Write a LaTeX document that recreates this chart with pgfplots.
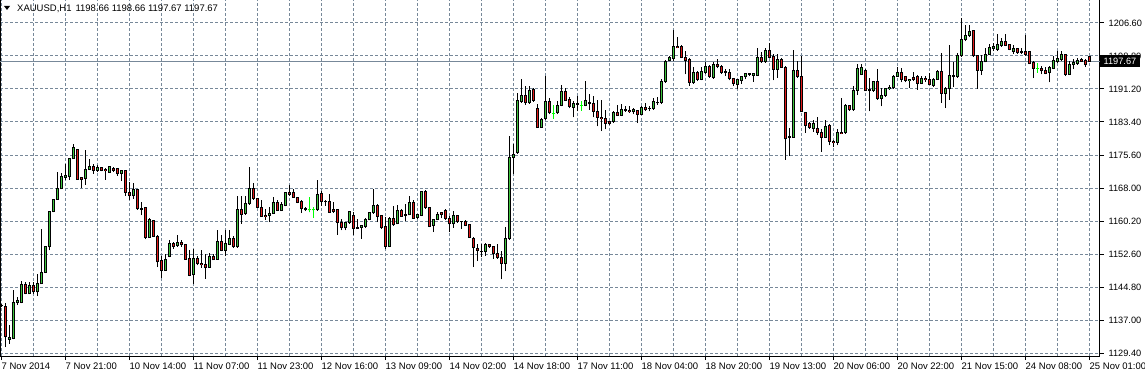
\documentclass[border=0pt]{standalone}
\usepackage{pgfplots}
\pgfplotsset{compat=1.18}
\usepackage{pgfplotstable}
\usepackage{fontspec}
\setmainfont{Liberation Sans}
\definecolor{bullc}{RGB}{60,195,60}
\definecolor{bearc}{RGB}{225,25,25}
\definecolor{dojic}{RGB}{0,255,0}
\definecolor{gridc}{RGB}{119,136,153}
\pgfplotstableread{
i o h l c
0 1140.4 1140.9 1140.2 1140.6
1 1140.2 1141.0 1130.8 1133.2
2 1132.6 1135.9 1131.6 1133.0
3 1132.8 1144.2 1132.6 1141.2
4 1141.3 1142.5 1140.6 1141.6
5 1141.2 1146.2 1141.0 1145.5
6 1145.5 1146.0 1143.1 1143.3
7 1143.3 1146.0 1143.1 1145.2
8 1145.2 1146.0 1143.3 1143.7
9 1143.7 1147.9 1142.7 1145.6
10 1145.6 1158.5 1145.5 1148.3
11 1148.3 1154.4 1148.1 1154.3
12 1154.2 1162.6 1153.4 1162.4
13 1162.5 1165.4 1162.3 1165.4
14 1165.4 1171.7 1165.3 1167.8
15 1167.8 1171.4 1167.7 1170.7
16 1170.5 1173.6 1169.9 1170.9
17 1170.7 1175.0 1169.9 1174.8
18 1174.8 1178.3 1174.8 1177.5
19 1176.9 1177.1 1170.1 1170.1
20 1170.4 1170.5 1168.0 1170.1
21 1170.3 1176.9 1168.8 1172.4
22 1172.4 1174.8 1172.2 1173.0
23 1173.0 1173.6 1171.3 1172.1
24 1172.1 1173.4 1171.7 1172.8
25 1172.8 1173.0 1171.9 1172.2
26 1172.4 1172.7 1169.9 1172.0
27 1171.7 1173.2 1171.7 1173.0
28 1172.5 1172.8 1171.7 1172.2
29 1172.5 1172.5 1170.9 1171.3
30 1171.5 1172.1 1169.6 1172.1
31 1172.1 1172.1 1166.2 1167.0
32 1167.0 1169.3 1165.2 1166.2
33 1166.2 1169.1 1165.5 1167.6
34 1167.6 1167.8 1162.9 1163.1
35 1163.1 1164.8 1161.6 1163.0
36 1163.4 1163.5 1156.0 1156.5
37 1156.5 1161.0 1156.4 1160.6
38 1160.4 1160.6 1156.5 1156.7
39 1156.7 1156.9 1149.5 1150.7
40 1151.1 1152.2 1147.0 1148.7
41 1148.7 1152.6 1148.6 1151.2
42 1152.0 1155.9 1151.8 1155.0
43 1155.0 1155.3 1153.8 1154.4
44 1154.5 1157.1 1154.2 1155.3
45 1155.3 1155.9 1154.3 1154.7
46 1154.8 1155.0 1151.2 1151.3
47 1151.5 1153.4 1147.3 1147.6
48 1147.7 1153.8 1145.6 1151.5
49 1151.5 1152.2 1149.9 1150.3
50 1150.4 1153.5 1149.4 1150.0
51 1150.0 1152.6 1146.8 1149.4
52 1149.5 1152.8 1149.4 1152.0
53 1152.0 1152.6 1151.1 1151.2
54 1151.3 1158.2 1151.2 1155.6
55 1155.6 1156.9 1153.2 1153.4
56 1153.4 1158.2 1152.2 1155.1
57 1154.8 1158.1 1154.6 1156.3
58 1156.1 1156.7 1154.0 1154.2
59 1154.2 1166.2 1154.0 1162.9
60 1162.9 1166.2 1159.6 1161.8
61 1162.0 1166.2 1161.8 1164.4
62 1164.3 1172.8 1164.1 1168.0
63 1168.0 1169.1 1165.2 1165.5
64 1165.5 1165.7 1163.4 1163.5
65 1163.5 1165.2 1161.2 1161.3
66 1161.6 1163.1 1160.6 1161.3
67 1161.6 1163.5 1160.0 1162.1
68 1162.1 1166.0 1162.0 1164.5
69 1164.5 1165.1 1162.6 1162.7
70 1162.7 1164.7 1162.6 1164.1
71 1163.9 1167.0 1163.7 1166.9
72 1166.9 1168.8 1166.2 1166.5
73 1166.9 1167.8 1165.7 1165.8
74 1165.8 1166.0 1164.4 1164.7
75 1164.8 1165.1 1162.1 1163.1
76 1163.1 1163.5 1162.6 1162.9
77 1162.9 1165.8 1162.3 1162.9
78 1162.9 1163.5 1161.0 1162.9
79 1162.9 1169.9 1162.7 1166.5
80 1166.6 1167.4 1163.9 1164.9
81 1164.9 1165.2 1163.9 1164.8
82 1164.8 1166.6 1162.1 1162.3
83 1163.0 1164.7 1162.2 1162.5
84 1163.0 1163.1 1157.1 1159.9
85 1159.9 1160.8 1158.1 1158.7
86 1158.7 1160.0 1158.1 1159.9
87 1159.9 1162.7 1159.6 1162.5
88 1161.6 1162.5 1156.9 1158.5
89 1158.8 1160.8 1158.5 1158.6
90 1158.8 1159.4 1156.1 1159.2
91 1159.1 1160.9 1158.6 1160.6
92 1160.6 1162.5 1160.4 1162.3
93 1162.2 1167.8 1162.0 1163.9
94 1163.9 1164.3 1160.0 1161.4
95 1161.6 1161.7 1158.3 1158.8
96 1159.1 1161.2 1153.8 1154.4
97 1154.4 1161.2 1154.4 1160.9
98 1160.8 1163.9 1159.2 1159.4
99 1159.6 1164.1 1159.5 1162.7
100 1162.7 1163.1 1161.2 1161.4
101 1161.7 1164.3 1160.2 1161.6
102 1161.7 1166.2 1161.6 1164.7
103 1164.7 1165.1 1160.8 1160.9
104 1161.2 1162.0 1160.8 1161.7
105 1161.6 1167.4 1161.4 1167.2
106 1167.2 1167.6 1163.1 1163.4
107 1163.4 1163.5 1158.8 1159.1
108 1159.2 1160.8 1157.7 1160.6
109 1160.6 1162.3 1160.4 1161.7
110 1162.2 1162.2 1160.9 1161.9
111 1162.7 1163.0 1160.6 1160.9
112 1160.9 1161.4 1157.7 1159.6
113 1159.6 1162.6 1158.7 1161.6
114 1161.6 1161.6 1159.9 1160.1
115 1160.2 1160.2 1158.4 1160.1
116 1160.2 1160.6 1159.1 1159.3
117 1159.5 1159.6 1156.3 1156.5
118 1156.2 1156.5 1149.5 1154.0
119 1153.8 1154.8 1150.9 1153.4
120 1153.2 1154.8 1151.8 1153.1
121 1153.2 1155.2 1152.1 1154.8
122 1154.8 1154.8 1154.0 1154.2
123 1154.4 1154.4 1151.5 1152.6
124 1152.7 1154.8 1151.5 1151.7
125 1151.7 1153.2 1146.6 1150.3
126 1150.3 1158.8 1148.5 1156.2
127 1156.2 1180.1 1155.9 1175.2
128 1175.2 1178.2 1171.2 1175.8
129 1176.2 1190.3 1176.0 1188.5
130 1188.2 1193.6 1187.9 1189.7
131 1189.7 1191.8 1187.5 1187.9
132 1187.9 1191.8 1187.7 1190.8
133 1191.0 1191.3 1188.2 1188.5
134 1186.5 1187.7 1182.1 1182.1
135 1182.2 1184.3 1182.1 1184.0
136 1184.3 1194.2 1184.0 1188.2
137 1188.2 1189.1 1185.2 1185.6
138 1185.5 1187.5 1184.2 1185.5
139 1185.6 1188.3 1185.3 1187.4
140 1187.4 1192.2 1187.1 1190.5
141 1190.5 1191.4 1188.3 1188.5
142 1188.7 1189.2 1186.6 1187.1
143 1186.9 1188.3 1184.5 1187.7
144 1187.7 1189.5 1185.9 1187.5
145 1187.4 1188.3 1186.1 1187.4
146 1187.4 1193.0 1187.1 1188.5
147 1187.9 1190.0 1186.3 1187.7
148 1187.7 1189.5 1184.5 1185.9
149 1185.8 1188.5 1182.4 1184.5
150 1184.5 1188.7 1181.3 1184.2
151 1184.2 1186.3 1181.7 1183.2
152 1183.5 1183.5 1182.8 1183.2
153 1183.5 1185.9 1183.2 1185.6
154 1185.6 1187.5 1184.8 1184.9
155 1185.0 1187.7 1184.8 1186.3
156 1186.3 1187.1 1185.8 1186.1
157 1186.1 1187.1 1185.6 1185.8
158 1185.8 1186.6 1185.2 1186.3
159 1186.1 1186.3 1183.2 1185.2
160 1185.2 1187.1 1185.0 1186.9
161 1186.9 1187.9 1186.1 1186.3
162 1186.7 1187.1 1185.9 1186.6
163 1186.6 1189.1 1186.3 1188.3
164 1188.1 1189.2 1187.5 1187.9
165 1188.0 1193.4 1187.6 1193.0
166 1192.9 1197.9 1192.6 1197.7
167 1197.9 1198.9 1197.7 1198.5
168 1198.3 1204.9 1197.7 1201.0
169 1201.2 1203.3 1200.7 1200.8
170 1201.2 1201.4 1198.3 1198.5
171 1198.5 1200.0 1194.6 1197.9
172 1198.1 1198.3 1191.9 1192.6
173 1192.6 1196.3 1192.4 1195.0
174 1195.0 1195.4 1193.0 1193.4
175 1193.4 1196.3 1193.2 1195.2
176 1195.0 1197.5 1194.7 1196.5
177 1196.5 1196.8 1193.8 1194.2
178 1193.8 1197.5 1193.6 1196.8
179 1196.8 1198.1 1196.0 1196.4
180 1196.5 1196.8 1194.7 1195.0
181 1195.2 1195.8 1194.2 1195.1
182 1195.0 1195.8 1193.2 1193.6
183 1193.6 1193.8 1191.9 1192.4
184 1192.2 1193.6 1191.1 1193.4
185 1193.2 1194.2 1192.4 1194.0
186 1194.0 1195.0 1193.4 1194.7
187 1194.7 1195.0 1194.2 1194.6
188 1194.4 1195.0 1192.9 1194.7
189 1194.4 1200.8 1194.2 1198.6
190 1198.6 1199.7 1197.3 1197.5
191 1197.5 1200.8 1197.3 1200.2
192 1200.2 1202.0 1198.5 1198.6
193 1198.7 1199.3 1193.2 1195.8
194 1195.8 1199.3 1193.8 1198.1
195 1198.1 1198.3 1196.1 1196.3
196 1196.3 1196.5 1174.6 1179.5
197 1179.9 1182.0 1175.6 1180.1
198 1179.9 1200.2 1179.7 1195.6
199 1195.6 1197.7 1193.8 1194.2
200 1194.2 1198.9 1185.8 1185.9
201 1185.6 1185.8 1180.9 1182.7
202 1183.0 1183.4 1181.9 1182.2
203 1182.0 1183.8 1181.1 1183.0
204 1182.0 1184.5 1180.5 1181.0
205 1181.0 1181.9 1176.5 1179.9
206 1179.9 1184.0 1179.7 1182.4
207 1182.7 1183.0 1178.0 1178.9
208 1178.9 1179.3 1177.7 1178.6
209 1178.7 1181.9 1178.0 1181.0
210 1181.0 1189.1 1180.6 1180.7
211 1180.9 1187.7 1180.7 1187.3
212 1187.3 1187.5 1186.1 1186.3
213 1186.3 1191.8 1186.1 1190.8
214 1190.8 1197.1 1189.7 1196.0
215 1194.6 1197.1 1194.4 1196.1
216 1195.5 1195.8 1190.7 1190.8
217 1191.0 1193.8 1185.9 1190.8
218 1190.8 1193.0 1190.5 1192.8
219 1192.8 1195.8 1188.7 1188.9
220 1188.9 1191.5 1187.1 1189.6
221 1189.6 1191.5 1189.4 1191.2
222 1191.2 1192.0 1191.0 1191.5
223 1191.4 1194.4 1191.2 1194.2
224 1194.2 1196.4 1194.1 1195.0
225 1195.0 1196.0 1192.7 1193.4
226 1194.1 1194.3 1192.7 1193.1
227 1193.1 1193.4 1191.5 1193.4
228 1193.8 1195.1 1193.1 1193.4
229 1194.1 1194.4 1191.0 1192.5
230 1192.5 1194.1 1192.3 1193.7
231 1193.7 1194.3 1192.9 1193.3
232 1193.4 1194.8 1192.0 1192.1
233 1192.0 1193.7 1191.7 1193.4
234 1193.4 1195.6 1193.3 1195.2
235 1195.2 1199.5 1187.9 1190.2
236 1190.2 1191.7 1186.7 1191.2
237 1191.2 1201.4 1188.6 1194.3
238 1194.1 1197.5 1191.7 1194.3
239 1194.1 1199.5 1193.8 1198.9
240 1198.9 1207.8 1198.7 1202.8
241 1202.8 1206.2 1202.3 1203.7
242 1203.7 1206.2 1203.3 1204.7
243 1204.9 1204.9 1198.7 1198.9
244 1199.1 1199.2 1191.2 1195.6
245 1195.6 1199.2 1194.4 1197.5
246 1197.5 1200.8 1197.4 1199.2
247 1199.2 1201.8 1199.1 1200.8
248 1200.7 1202.0 1200.0 1201.2
249 1200.4 1204.1 1200.0 1201.6
250 1201.4 1203.2 1201.0 1202.2
251 1202.2 1204.0 1201.2 1201.4
252 1201.6 1201.8 1200.2 1200.4
253 1200.0 1201.4 1199.4 1200.7
254 1200.7 1200.8 1199.4 1199.7
255 1199.9 1200.8 1199.3 1199.7
256 1200.0 1203.8 1198.9 1199.3
257 1199.9 1200.0 1196.9 1197.1
258 1197.3 1197.7 1193.7 1196.0
259 1196.0 1197.3 1195.0 1196.0
260 1196.0 1196.5 1194.6 1195.4
261 1195.5 1196.2 1194.6 1194.8
262 1195.0 1196.5 1192.7 1196.2
263 1196.0 1198.9 1195.8 1197.9
264 1197.6 1200.0 1197.3 1198.3
265 1198.1 1200.0 1197.7 1199.3
266 1199.3 1199.4 1194.2 1194.6
267 1194.6 1197.7 1194.4 1196.8
268 1196.8 1198.1 1195.8 1197.3
269 1197.1 1198.3 1196.8 1197.9
270 1198.1 1198.5 1197.6 1197.7
271 1197.9 1198.1 1196.3 1196.8
272 1198.66 1198.66 1197.67 1197.67
}\bars
\pgfplotstableread{
i o h l c
77 1162.9 1165.8 1162.3 1162.9
78 1162.9 1163.5 1161.0 1162.9
138 1185.5 1187.5 1184.2 1185.5
145 1187.4 1188.3 1186.1 1187.4
259 1196.0 1197.3 1195.0 1196.0
}\dojis
\begin{document}
\begin{tikzpicture}
\path[use as bounding box, fill=white] (0pt,0pt) rectangle (1145pt,375pt);
\begin{axis}[
  at={(0pt,19pt)}, anchor=south west,
  scale only axis, width=1100pt, height=356pt,
  xmin=-0.375, xmax=274.625, ymin=1128.70, ymax=1211.98,
  clip=false,
  axis line style={black, line width=1pt},
  xtick={0,16,...,272},
  xticklabels={7 Nov 2014,7 Nov 21:00,10 Nov 14:00,11 Nov 07:00,11 Nov 23:00,12 Nov 16:00,13 Nov 09:00,14 Nov 02:00,14 Nov 18:00,17 Nov 11:00,18 Nov 04:00,18 Nov 20:00,19 Nov 13:00,20 Nov 06:00,20 Nov 22:00,21 Nov 15:00,24 Nov 08:00,25 Nov 01:00},
  minor xtick={8,24,...,264},
  ytick={1129.40,1137.12,1144.84,1152.56,1160.28,1168.00,1175.72,1183.44,1191.16,1198.88,1206.60},
  yticklabels={1129.40,1137.00,1144.80,1152.60,1160.20,1168.00,1175.60,1183.40,1191.20,1198.80,1206.60},
  ytick pos=right, yticklabel pos=right,
  xtick pos=bottom,
  tick align=outside,
  major tick length=4pt, minor tick length=0pt,
  tick style={black, line width=1pt},
  grid=both,
  major grid style={gridc, line width=1pt, dash pattern=on 3pt off 2pt},
  minor grid style={gridc, line width=1pt, dash pattern=on 3pt off 2pt},
  ticklabel style={inner sep=0pt},
  xticklabel style={anchor=north west, yshift=-3pt, font=\fontsize{9.5}{11}\selectfont},
  yticklabel style={anchor=west, xshift=4.5pt, font=\fontsize{9.2}{11}\selectfont},
]
\addplot[gridc, line width=1pt, forget plot] coordinates {(-0.375,1197.67) (274.625,1197.67)};
% wicks
\addplot[draw=none, forget plot, error bars/.cd, y dir=plus, y explicit, error mark=none,
  error bar style={draw=black, line width=1pt, solid}]
  table[x=i, y=l, y error expr={\thisrow{h}-\thisrow{l}}] {\bars};
% body outline
\addplot[draw=none, forget plot, error bars/.cd, y dir=plus, y explicit, error mark=none,
  error bar style={draw=black, line width=3pt, solid}]
  table[x=i, y expr={min(\thisrow{o},\thisrow{c})-0.117}, y error expr={abs(\thisrow{c}-\thisrow{o})+0.234}] {\bars};
% bull interior
\addplot[draw=none, forget plot, error bars/.cd, y dir=plus, y explicit, error mark=none,
  error bar style={draw=bullc, line width=1pt, solid}]
  table[x=i, y expr={\thisrow{o}+0.117}, y error expr={max(\thisrow{c}-\thisrow{o}-0.234,0)}] {\bars};
% bear interior
\addplot[draw=none, forget plot, error bars/.cd, y dir=plus, y explicit, error mark=none,
  error bar style={draw=bearc, line width=1pt, solid}]
  table[x=i, y expr={\thisrow{c}+0.117}, y error expr={max(\thisrow{o}-\thisrow{c}-0.234,0)}] {\bars};
% doji
\addplot[draw=none, forget plot, error bars/.cd, y dir=plus, y explicit, error mark=none,
  error bar style={draw=dojic, line width=1pt, solid}]
  table[x=i, y=l, y error expr={\thisrow{h}-\thisrow{l}}] {\dojis};
\addplot[draw=none, forget plot, error bars/.cd, y dir=plus, y explicit, error mark=none,
  error bar style={draw=dojic, line width=3pt, solid}]
  table[x=i, y expr={\thisrow{o}-0.117}, y error expr={0.234}] {\dojis};
\node[anchor=west, fill=black, text=white, inner xsep=3.5pt, inner ysep=0pt, minimum height=12pt,
  font=\fontsize{9.2}{11}\selectfont] at (axis cs:274.625,1197.67) {1197.67};
\end{axis}
\fill[black] (4pt,369pt) -- (10pt,369pt) -- (7pt,365pt) -- cycle;
\node[anchor=base west, inner sep=0pt, font=\fontsize{9.5}{11}\selectfont] at (17pt,363pt) {XAUUSD,H1\hspace{4pt}1198.66 1198.66 1197.67 1197.67};
\end{tikzpicture}
\end{document}
